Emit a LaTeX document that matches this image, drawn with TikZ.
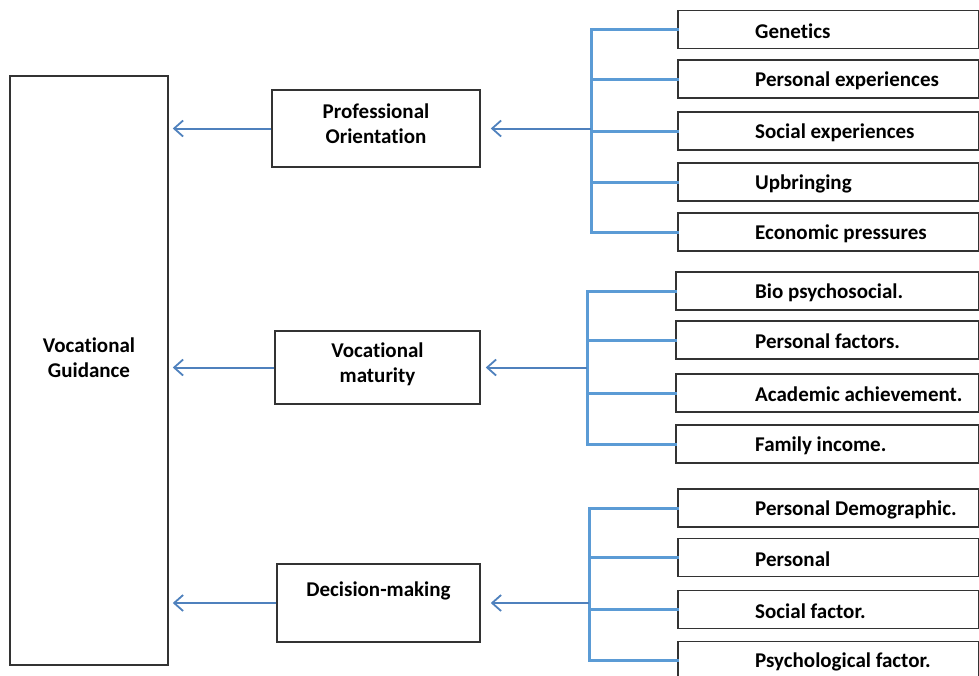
\documentclass[tikz,border=0pt]{standalone}
\usepackage{fontspec}
\setmainfont{Carlito}[Ligatures=NoCommon]
\usepackage{xcolor}
\usetikzlibrary{positioning,arrows.meta}

\definecolor{bracketblue}{HTML}{5B9BD5}
\definecolor{arrowblue}{HTML}{4F81BD}

\tikzset{
  box/.style={draw=black!80, line width=1.5pt, fill=white},
  bigbox/.style={box, minimum width=158pt, minimum height=589pt},
  midbox/.style={box, minimum height=75pt},
  factor/.style={box, anchor=west, minimum width=301pt, minimum height=38pt},
  factorlabel/.style={anchor=west, inner sep=0pt, xshift=78pt, yshift=-1.5pt},
  bracket/.style={bracketblue, line width=3pt, line cap=rect},
  link/.style={arrowblue, line width=2pt, -{Straight Barb[length=9pt,width=16pt,line width=1.8pt]}},
}

\begin{document}
\begin{tikzpicture}[x=1pt,y=-1pt,font=\bfseries\fontsize{21}{25}\selectfont]
\useasboundingbox (0,0) rectangle (979,675);

% left column
\node[bigbox, label={[align=center,yshift=13pt]center:Vocational\\Guidance}] (guide) at (89,370.5) {};

% middle column
\node[midbox, minimum width=208pt, minimum height=77pt, label={[align=center,yshift=5pt]center:Professional\\Orientation}] (prof) at (376,128.5) {};
\node[midbox, minimum width=205pt, minimum height=73pt, label={[align=center,yshift=3pt]center:Vocational\\maturity}] (voc) at (377.5,367.5) {};
\node[midbox, minimum width=203pt, minimum height=78pt, label={[yshift=12pt]center:Decision-making}] (dec) at (378.5,603) {};

\foreach \m in {prof,voc,dec}
	\draw[link, shorten >=4pt] (\m.west) -- (\m.west -| guide.east);

% brackets
\coordinate (b1) at (591,0);
\coordinate (b2) at (587,0);
\coordinate (b3) at (589,0);

% first group
\foreach \n/\y/\t in {gen/29.5/Genetics, pexp/79/Personal experiences, sexp/131/Social experiences, upb/182/Upbringing, econ/232/Economic pressures}{
	\node[factor, label={[factorlabel]west:\t}] (\n) at (677,\y) {};
	\draw[bracket] (\n.west -| b1) -- (\n.west);
}
\draw[bracket] (gen.west -| b1) -- (econ.west -| b1);
\draw[link, shorten >=10pt] (prof.east -| b1) -- (prof.east);

% second group
\foreach \n/\y/\t in {bio/291/Bio psychosocial., pfac/340/Personal factors., acad/393/Academic achievement., fam/444/Family income.}{
	\node[factor, minimum width=303pt, label={[factorlabel, xshift=2pt]west:\t}] (\n) at (675,\y) {};
	\draw[bracket] (\n.west -| b2) -- (\n.west);
}
\draw[bracket] (bio.west -| b2) -- (fam.west -| b2);
\draw[link, shorten >=5pt] (voc.east -| b2) -- (voc.east);

% third group
\foreach \n/\y/\t in {demo/508/Personal Demographic., pers/557.5/Personal, soc/609.5/Social factor., psy/660.5/Psychological factor.}{
	\node[factor, label={[factorlabel]west:\t}] (\n) at (677,\y) {};
	\draw[bracket] (\n.west -| b3) -- (\n.west);
}
\draw[bracket] (demo.west -| b3) -- (psy.west -| b3);
\draw[link, shorten >=10pt] (dec.east -| b3) -- (dec.east);

\end{tikzpicture}
\end{document}
